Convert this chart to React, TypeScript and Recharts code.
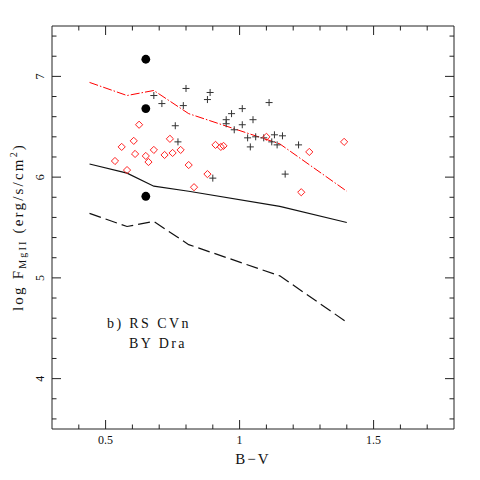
import { ComposedChart, XAxis, YAxis, Line, Scatter } from "recharts";

// model curves (B-V, log F)
const redCurve = [
  { x: 0.44, y: 6.94 },
  { x: 0.58, y: 6.81 },
  { x: 0.68, y: 6.86 },
  { x: 0.81, y: 6.63 },
  { x: 1.15, y: 6.33 },
  { x: 1.4, y: 5.86 },
];
const solidCurve = [
  { x: 0.44, y: 6.13 },
  { x: 0.58, y: 6.04 },
  { x: 0.68, y: 5.91 },
  { x: 0.81, y: 5.86 },
  { x: 1.15, y: 5.71 },
  { x: 1.4, y: 5.55 },
];
const dashedCurve = [
  { x: 0.44, y: 5.64 },
  { x: 0.58, y: 5.51 },
  { x: 0.68, y: 5.56 },
  { x: 0.81, y: 5.33 },
  { x: 1.15, y: 5.02 },
  { x: 1.4, y: 4.56 },
];

// BY Dra stars (plus signs)
const plusX = [0.68, 0.71, 0.77, 0.76, 0.79, 0.8, 0.88, 0.89, 0.9, 0.95, 0.95, 0.97, 0.98, 1.01, 1.01, 1.03, 1.04, 1.05, 1.06, 1.09, 1.11, 1.12, 1.13, 1.14, 1.16, 1.17, 1.22];
const plusY = [6.81, 6.73, 6.35, 6.51, 6.71, 6.88, 6.77, 6.84, 5.99, 6.57, 6.53, 6.63, 6.47, 6.68, 6.52, 6.39, 6.3, 6.57, 6.4, 6.39, 6.74, 6.35, 6.42, 6.32, 6.41, 6.03, 6.32];

// RS CVn stars (diamonds)
const diamondX = [0.535, 0.56, 0.58, 0.605, 0.61, 0.625, 0.65, 0.66, 0.68, 0.72, 0.74, 0.75, 0.78, 0.81, 0.83, 0.88, 0.91, 0.93, 0.94, 1.1, 1.23, 1.26, 1.39];
const diamondY = [6.16, 6.3, 6.07, 6.36, 6.23, 6.52, 6.21, 6.15, 6.27, 6.22, 6.38, 6.24, 6.27, 6.12, 5.9, 6.03, 6.32, 6.3, 6.31, 6.4, 5.85, 6.25, 6.35];

// filled circles
const dotX = [0.65, 0.65, 0.65];
const dotY = [7.17, 6.68, 5.81];

const xTicks = [0.4, 0.5, 0.6, 0.7, 0.8, 0.9, 1.0, 1.1, 1.2, 1.3, 1.4, 1.5, 1.6, 1.7];
const yTicks = [3.6, 3.8, 4.0, 4.2, 4.4, 4.6, 4.8, 5.0, 5.2, 5.4, 5.6, 5.8, 6.0, 6.2, 6.4, 6.6, 6.8, 7.0, 7.2, 7.4];
const xLabels: Record<string, string> = { "0.5": "0.5", "1": "1", "1.5": "1.5" };
const yLabels: Record<string, string> = { "4": "4", "5": "5", "6": "6", "7": "7" };

const pluses = plusX.map((x, i) => ({ x, y: plusY[i] }));
const diamonds = diamondX.map((x, i) => ({ x, y: diamondY[i] }));
const dots = dotX.map((x, i) => ({ x, y: dotY[i] }));

const FONT = "'Liberation Serif', serif";
const AXIS = "#222";

function XTick(props: any) {
  const { x, y, payload, side } = props;
  const key = String(+payload.value.toFixed(2));
  const major = key in xLabels;
  const len = major ? 9 : 4.5;
  const dir = side === "bottom" ? -1 : 1;
  return (
    <g>
      <line x1={x} x2={x} y1={y} y2={y + dir * len} stroke={AXIS} strokeWidth={1} />
      {side === "bottom" && major && (
        <text x={x} y={y + 15} textAnchor="middle" fontFamily={FONT} fontSize={12} fill="#111">
          {xLabels[key]}
        </text>
      )}
    </g>
  );
}

function YTick(props: any) {
  const { x, y, payload, side } = props;
  const key = String(+payload.value.toFixed(2));
  const major = key in yLabels;
  const len = major ? 9 : 4.5;
  const dir = side === "left" ? 1 : -1;
  return (
    <g>
      <line x1={x} x2={x + dir * len} y1={y} y2={y} stroke={AXIS} strokeWidth={1} />
      {side === "left" && major && (
        <text
          x={x - 8}
          y={y}
          transform={`rotate(-90 ${x - 8} ${y})`}
          textAnchor="middle"
          fontFamily={FONT}
          fontSize={12}
          fill="#111"
        >
          {yLabels[key]}
        </text>
      )}
    </g>
  );
}

const plusShape = (p: any) => (
  <path d={`M${p.cx - 3.5},${p.cy}h7M${p.cx},${p.cy - 3.5}v7`} stroke="#333" strokeWidth={1} fill="none" />
);
const diamondShape = (p: any) => (
  <path
    d={`M${p.cx},${p.cy - 3.6}L${p.cx + 3.6},${p.cy}L${p.cx},${p.cy + 3.6}L${p.cx - 3.6},${p.cy}Z`}
    stroke="#f22"
    strokeWidth={1}
    fill="none"
  />
);
const dotShape = (p: any) => <circle cx={p.cx} cy={p.cy} r={4.4} fill="#000" />;

export default function App() {
  return (
    <div style={{ position: "absolute", left: 0, top: 0, width: 480, height: 480, background: "#fff" }}>
      <ComposedChart width={480} height={480} margin={{ top: 25, right: 25, bottom: 50, left: 51 }}>
        <XAxis
          xAxisId="b"
          dataKey="x"
          type="number"
          domain={[0.3, 1.8]}
          allowDataOverflow
          ticks={xTicks}
          interval={0}
          height={1}
          tickSize={0}
          tickMargin={0}
          tickLine={false}
          axisLine={{ stroke: AXIS }}
          tick={<XTick side="bottom" />}
        />
        <XAxis
          xAxisId="t"
          orientation="top"
          dataKey="x"
          type="number"
          domain={[0.3, 1.8]}
          allowDataOverflow
          ticks={xTicks}
          interval={0}
          height={1}
          tickSize={0}
          tickMargin={0}
          tickLine={false}
          axisLine={{ stroke: AXIS }}
          tick={<XTick side="top" />}
        />
        <YAxis
          yAxisId="l"
          dataKey="y"
          type="number"
          domain={[3.5, 7.5]}
          allowDataOverflow
          ticks={yTicks}
          interval={0}
          width={1}
          tickSize={0}
          tickMargin={0}
          tickLine={false}
          axisLine={{ stroke: AXIS }}
          tick={<YTick side="left" />}
        />
        <YAxis
          yAxisId="r"
          orientation="right"
          dataKey="y"
          type="number"
          domain={[3.5, 7.5]}
          allowDataOverflow
          ticks={yTicks}
          interval={0}
          width={1}
          tickSize={0}
          tickMargin={0}
          tickLine={false}
          axisLine={{ stroke: AXIS }}
          tick={<YTick side="right" />}
        />

        <Line xAxisId="b" yAxisId="l" data={redCurve} dataKey="y" type="linear" stroke="#f00" strokeWidth={1} strokeDasharray="9 2 1.5 2" dot={false} activeDot={false} isAnimationActive={false} />
        <Line xAxisId="b" yAxisId="l" data={solidCurve} dataKey="y" type="linear" stroke="#111" strokeWidth={1.2} dot={false} activeDot={false} isAnimationActive={false} />
        <Line xAxisId="b" yAxisId="l" data={dashedCurve} dataKey="y" type="linear" stroke="#111" strokeWidth={1.2} strokeDasharray="12 5" dot={false} activeDot={false} isAnimationActive={false} />

        <Scatter xAxisId="b" yAxisId="l" data={pluses} dataKey="y" shape={plusShape} isAnimationActive={false} />
        <Scatter xAxisId="b" yAxisId="l" data={diamonds} dataKey="y" shape={diamondShape} isAnimationActive={false} />
        <Scatter xAxisId="b" yAxisId="l" data={dots} dataKey="y" shape={dotShape} isAnimationActive={false} />

        <text x={253} y={464} textAnchor="middle" fontFamily={FONT} fontSize={15} letterSpacing={2} fill="#111">
          B−V
        </text>
        <text
          x={23}
          y={227}
          transform="rotate(-90 23 227)"
          textAnchor="middle"
          fontFamily={FONT}
          fontSize={15}
          letterSpacing={2.2}
          fill="#111"
        >
          log F
          <tspan fontSize={10} dy={3}>MgII</tspan>
          <tspan dy={-3}> (erg/s/cm</tspan>
          <tspan fontSize={10} dy={-6}>2</tspan>
          <tspan dy={6}>)</tspan>
        </text>
        <text x={107} y={328} fontFamily={FONT} fontSize={14} letterSpacing={2.4} fill="#111">
          b) RS CVn
        </text>
        <text x={129} y={348} fontFamily={FONT} fontSize={14} letterSpacing={2.4} fill="#111">
          BY Dra
        </text>
      </ComposedChart>
    </div>
  );
}
